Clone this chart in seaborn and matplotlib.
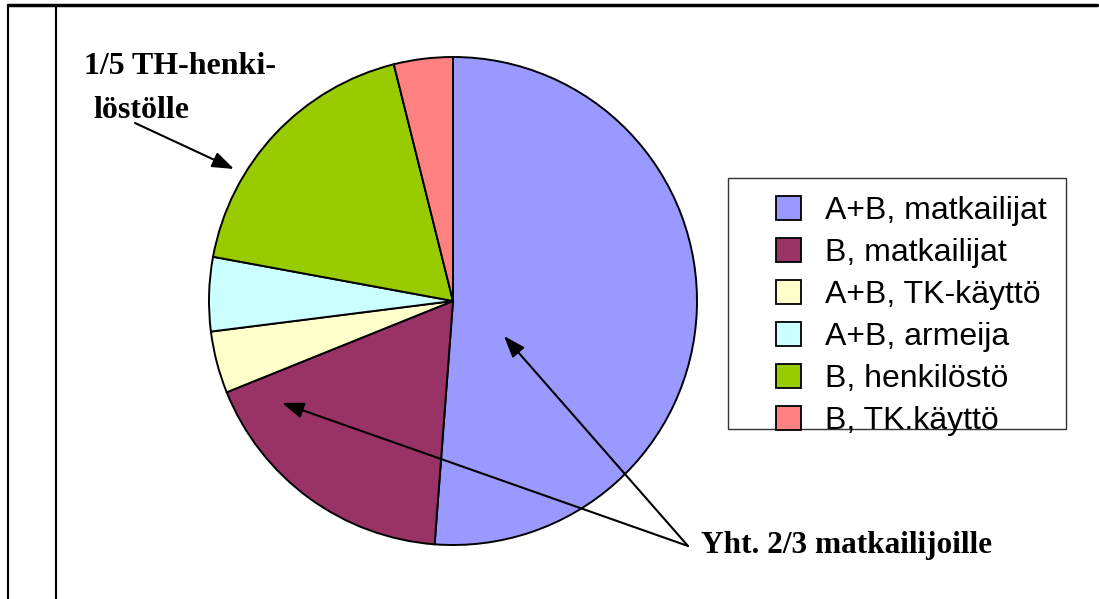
import matplotlib
matplotlib.use("Agg")
import matplotlib.pyplot as plt
from matplotlib.patches import Rectangle, Patch
from matplotlib.lines import Line2D
import seaborn as sns

categories = ["A+B, matkailijat", "B, matkailijat", "A+B, TK-käyttö",
              "A+B, armeija", "B, henkilöstö", "B, TK.käyttö"]
shares = [51.2, 17.7, 4.1, 4.9, 18.2, 3.9]
colors = ["#9999FF", "#993366", "#FFFFCC", "#CCFFFF", "#99CC00", "#FF8080"]
note_staff = ["1/5 TH-henki-", "löstölle"]
note_tourists = "Yht. 2/3 matkailijoille"

sns.set_theme(style="white")
plt.rcParams["font.family"] = ["Liberation Sans", "DejaVu Sans"]
plt.rcParams["text.color"] = "black"

W, H = 1099, 599
fig = plt.figure(figsize=(W / 100, H / 100), dpi=100)
fig.patch.set_facecolor("white")

def fx(px):
    return px / W

def fy(py):
    return 1 - py / H

cx, cy, r = 453, 301, 244
ax = fig.add_axes([fx(cx - r), fy(cy + r), 2 * r / W, 2 * r / H])
ax.pie(shares, colors=colors, startangle=90, counterclock=False,
       wedgeprops=dict(edgecolor="black", linewidth=1.4))
ax.set_xlim(-1, 1)
ax.set_ylim(-1, 1)
ax.set_aspect("auto")
ax.axis("off")

# frame lines
fig.add_artist(Line2D([fx(8), fx(1097)], [fy(5), fy(5)], color="black", lw=2.5))
fig.add_artist(Line2D([fx(8), fx(8)], [fy(5), 0], color="black", lw=1.5))
fig.add_artist(Line2D([fx(56), fx(56)], [fy(5), 0], color="black", lw=1.5))

# legend box
fig.add_artist(Rectangle((fx(728), fy(429)), fx(1066) - fx(728), fy(178) - fy(429),
                         transform=fig.transFigure, facecolor="white",
                         edgecolor="#333333", lw=1.0))
handles = [Patch(facecolor=c, edgecolor="black", lw=1.3) for c in colors]
leg = fig.legend(handles, categories, loc="upper left",
                 bbox_to_anchor=(fx(776), fy(196)), bbox_transform=fig.transFigure,
                 frameon=False, fontsize=23, handlelength=0.78, handleheight=0.78,
                 handletextpad=0.75, labelspacing=0.37, borderpad=0, borderaxespad=0)
for t in leg.get_texts():
    t.set_color("black")

def to_data(px, py):
    return ((px - cx) / r, -(py - cy) / r)

serif = ["Liberation Serif", "DejaVu Serif"]
fig.text(fx(84), fy(74), note_staff[0], fontsize=23, fontweight="bold",
         family=serif, ha="left", va="baseline", color="black")
fig.text(fx(93), fy(118), note_staff[1], fontsize=23, fontweight="bold",
         family=serif, ha="left", va="baseline", color="black")
fig.text(fx(701), fy(553), note_tourists, fontsize=22.5, fontweight="bold",
         family=serif, ha="left", va="baseline", color="black")

arrow = dict(arrowstyle="-|>,head_length=1.1,head_width=0.4", color="black",
             lw=1.5, shrinkA=0, shrinkB=0)
ax.annotate("", xy=to_data(234, 169), xytext=to_data(135, 123),
            arrowprops=arrow, annotation_clip=False)
ax.annotate("", xy=to_data(504, 336), xytext=to_data(688, 546),
            arrowprops=arrow, annotation_clip=False)
ax.annotate("", xy=to_data(282, 403), xytext=to_data(688, 546),
            arrowprops=arrow, annotation_clip=False)

fig.savefig("out.png", dpi=100, facecolor="white")
